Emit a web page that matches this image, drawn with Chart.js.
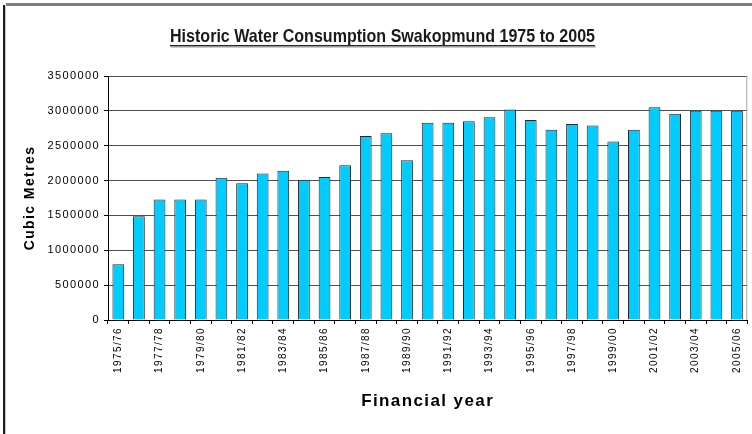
<!DOCTYPE html>
<html>
<head>
<meta charset="utf-8">
<title>Historic Water Consumption Swakopmund 1975 to 2005</title>
<script src="https://cdn.jsdelivr.net/npm/chart.js@4/dist/chart.umd.min.js"></script>
<style>
  html, body { margin: 0; padding: 0; background: #fff; }
  canvas { display: block; }
</style>
</head>
<body>
<canvas id="chart" width="752" height="434"></canvas>
<script>
// Financial years (July to June)
const financialYears = [
  '1975/76', '1976/77', '1977/78', '1978/79', '1979/80', '1980/81', '1981/82', '1982/83',
  '1983/84', '1984/85', '1985/86', '1986/87', '1987/88', '1988/89', '1989/90', '1990/91',
  '1991/92', '1992/93', '1993/94', '1994/95', '1995/96', '1996/97', '1997/98', '1998/99',
  '1999/00', '2000/01', '2001/02', '2002/03', '2003/04', '2004/05', '2005/06'
];

// Water consumed per financial year, cubic metres
const cubicMetres = [
   800000, 1490000, 1730000, 1730000, 1730000, 2040000, 1960000, 2100000,
  2140000, 2010000, 2050000, 2220000, 2640000, 2680000, 2290000, 2830000,
  2830000, 2850000, 2910000, 3020000, 2870000, 2730000, 2810000, 2790000,
  2560000, 2730000, 3050000, 2960000, 3000000, 3000000, 3000000
];

// Value axis ticks
const yTickValues = [0, 500000, 1000000, 1500000, 2000000, 2500000, 3000000, 3500000];

const chartTitle = 'Historic Water Consumption Swakopmund 1975 to 2005';
const yAxisTitle = 'Cubic Metres';
const xAxisTitle = 'Financial year';

const TEXT_FONT = "'Liberation Sans', Arial, sans-serif";

// Page frame, background and a little extra letter spacing for the axis text
const framePlugin = {
  id: 'frame',
  beforeDraw(chart) {
    const ctx = chart.ctx;
    ctx.save();
    ctx.fillStyle = '#ffffff';
    ctx.fillRect(0, 0, chart.width, chart.height);
    ctx.fillStyle = '#7f7f7f';
    ctx.fillRect(6, 3, chart.width - 6, 3);
    ctx.fillStyle = '#1e1e1e';
    ctx.fillRect(3, 5, 2, chart.height - 5);
    ctx.fillStyle = '#c4c4c4';
    ctx.fillRect(5, 6, 1, chart.height - 6);
    ctx.restore();
    ctx.letterSpacing = '1.4px';
  },
  afterDraw(chart) {
    const ctx = chart.ctx;
    const a = chart.chartArea;
    ctx.save();
    // light border on the right of the plot area
    ctx.strokeStyle = '#a8a8a8';
    ctx.lineWidth = 1;
    ctx.beginPath();
    ctx.moveTo(a.right - 0.5, a.top);
    ctx.lineTo(a.right - 0.5, a.bottom);
    ctx.stroke();

    // underlined, condensed heading
    ctx.letterSpacing = '0px';
    ctx.font = "bold 19px 'Liberation Sans Narrow', 'Liberation Sans', Arial, sans-serif";
    ctx.fillStyle = '#1a1a1a';
    ctx.textAlign = 'left';
    ctx.textBaseline = 'alphabetic';
    const targetWidth = 425;
    const w = ctx.measureText(chartTitle).width;
    const sx = targetWidth / w;
    const left = 170;
    const baseline = 42;
    ctx.translate(left, baseline);
    ctx.scale(sx, 1);
    ctx.fillText(chartTitle, 0, 0);
    ctx.setTransform(1, 0, 0, 1, 0, 0);
    ctx.fillStyle = '#2a2a2a';
    ctx.fillRect(left, baseline + 3, targetWidth, 1.5);
    ctx.fillStyle = '#9a9a9a';
    ctx.fillRect(left + 1, baseline + 4.5, targetWidth, 1);
    ctx.restore();
  }
};

new Chart(document.getElementById('chart'), {
  type: 'bar',
  data: {
    labels: financialYears,
    datasets: [{
      label: yAxisTitle,
      data: cubicMetres,
      backgroundColor: '#00ccff',
      borderColor: '#262626',
      borderWidth: 1,
      barPercentage: 0.57,
      categoryPercentage: 1.0
    }]
  },
  options: {
    responsive: false,
    animation: false,
    devicePixelRatio: 1,
    layout: { padding: { top: 76, right: 1, bottom: 0, left: 0 } },
    plugins: {
      legend: { display: false },
      title: { display: false },
      tooltip: { enabled: false }
    },
    scales: {
      x: {
        offset: true,
        border: { display: true, color: '#000', width: 1 },
        grid: {
          display: true,
          offset: true,
          drawOnChartArea: false,
          drawTicks: true,
          tickLength: 4,
          tickColor: '#000',
          color: '#000'
        },
        ticks: {
          autoSkip: false,
          minRotation: 90,
          maxRotation: 90,
          padding: 3,
          color: '#000',
          font: { family: TEXT_FONT, size: 10 },
          callback: (value, index) => (index % 2 === 0 ? financialYears[index] : '')
        },
        title: {
          display: true,
          text: xAxisTitle,
          color: '#000',
          font: { family: TEXT_FONT, size: 17, weight: 'bold' },
          padding: { top: 0, bottom: 22 }
        },
        afterFit(scale) { scale.height = 114; }
      },
      y: {
        min: yTickValues[0],
        max: yTickValues[yTickValues.length - 1],
        border: { display: true, color: '#000', width: 1 },
        grid: {
          color: '#505050',
          lineWidth: 1,
          tickLength: 4,
          tickColor: '#000'
        },
        afterBuildTicks(scale) {
          scale.ticks = yTickValues.map(v => ({ value: v }));
        },
        ticks: {
          padding: 4,
          color: '#000',
          font: { family: TEXT_FONT, size: 11 },
          callback: value => String(value)
        },
        title: {
          display: true,
          text: yAxisTitle,
          color: '#000',
          font: { family: TEXT_FONT, size: 14, weight: 'bold' },
          padding: { top: 22, bottom: 0 }
        },
        afterFit(scale) { scale.width = 108; }
      }
    }
  },
  plugins: [framePlugin]
});
</script>
</body>
</html>
